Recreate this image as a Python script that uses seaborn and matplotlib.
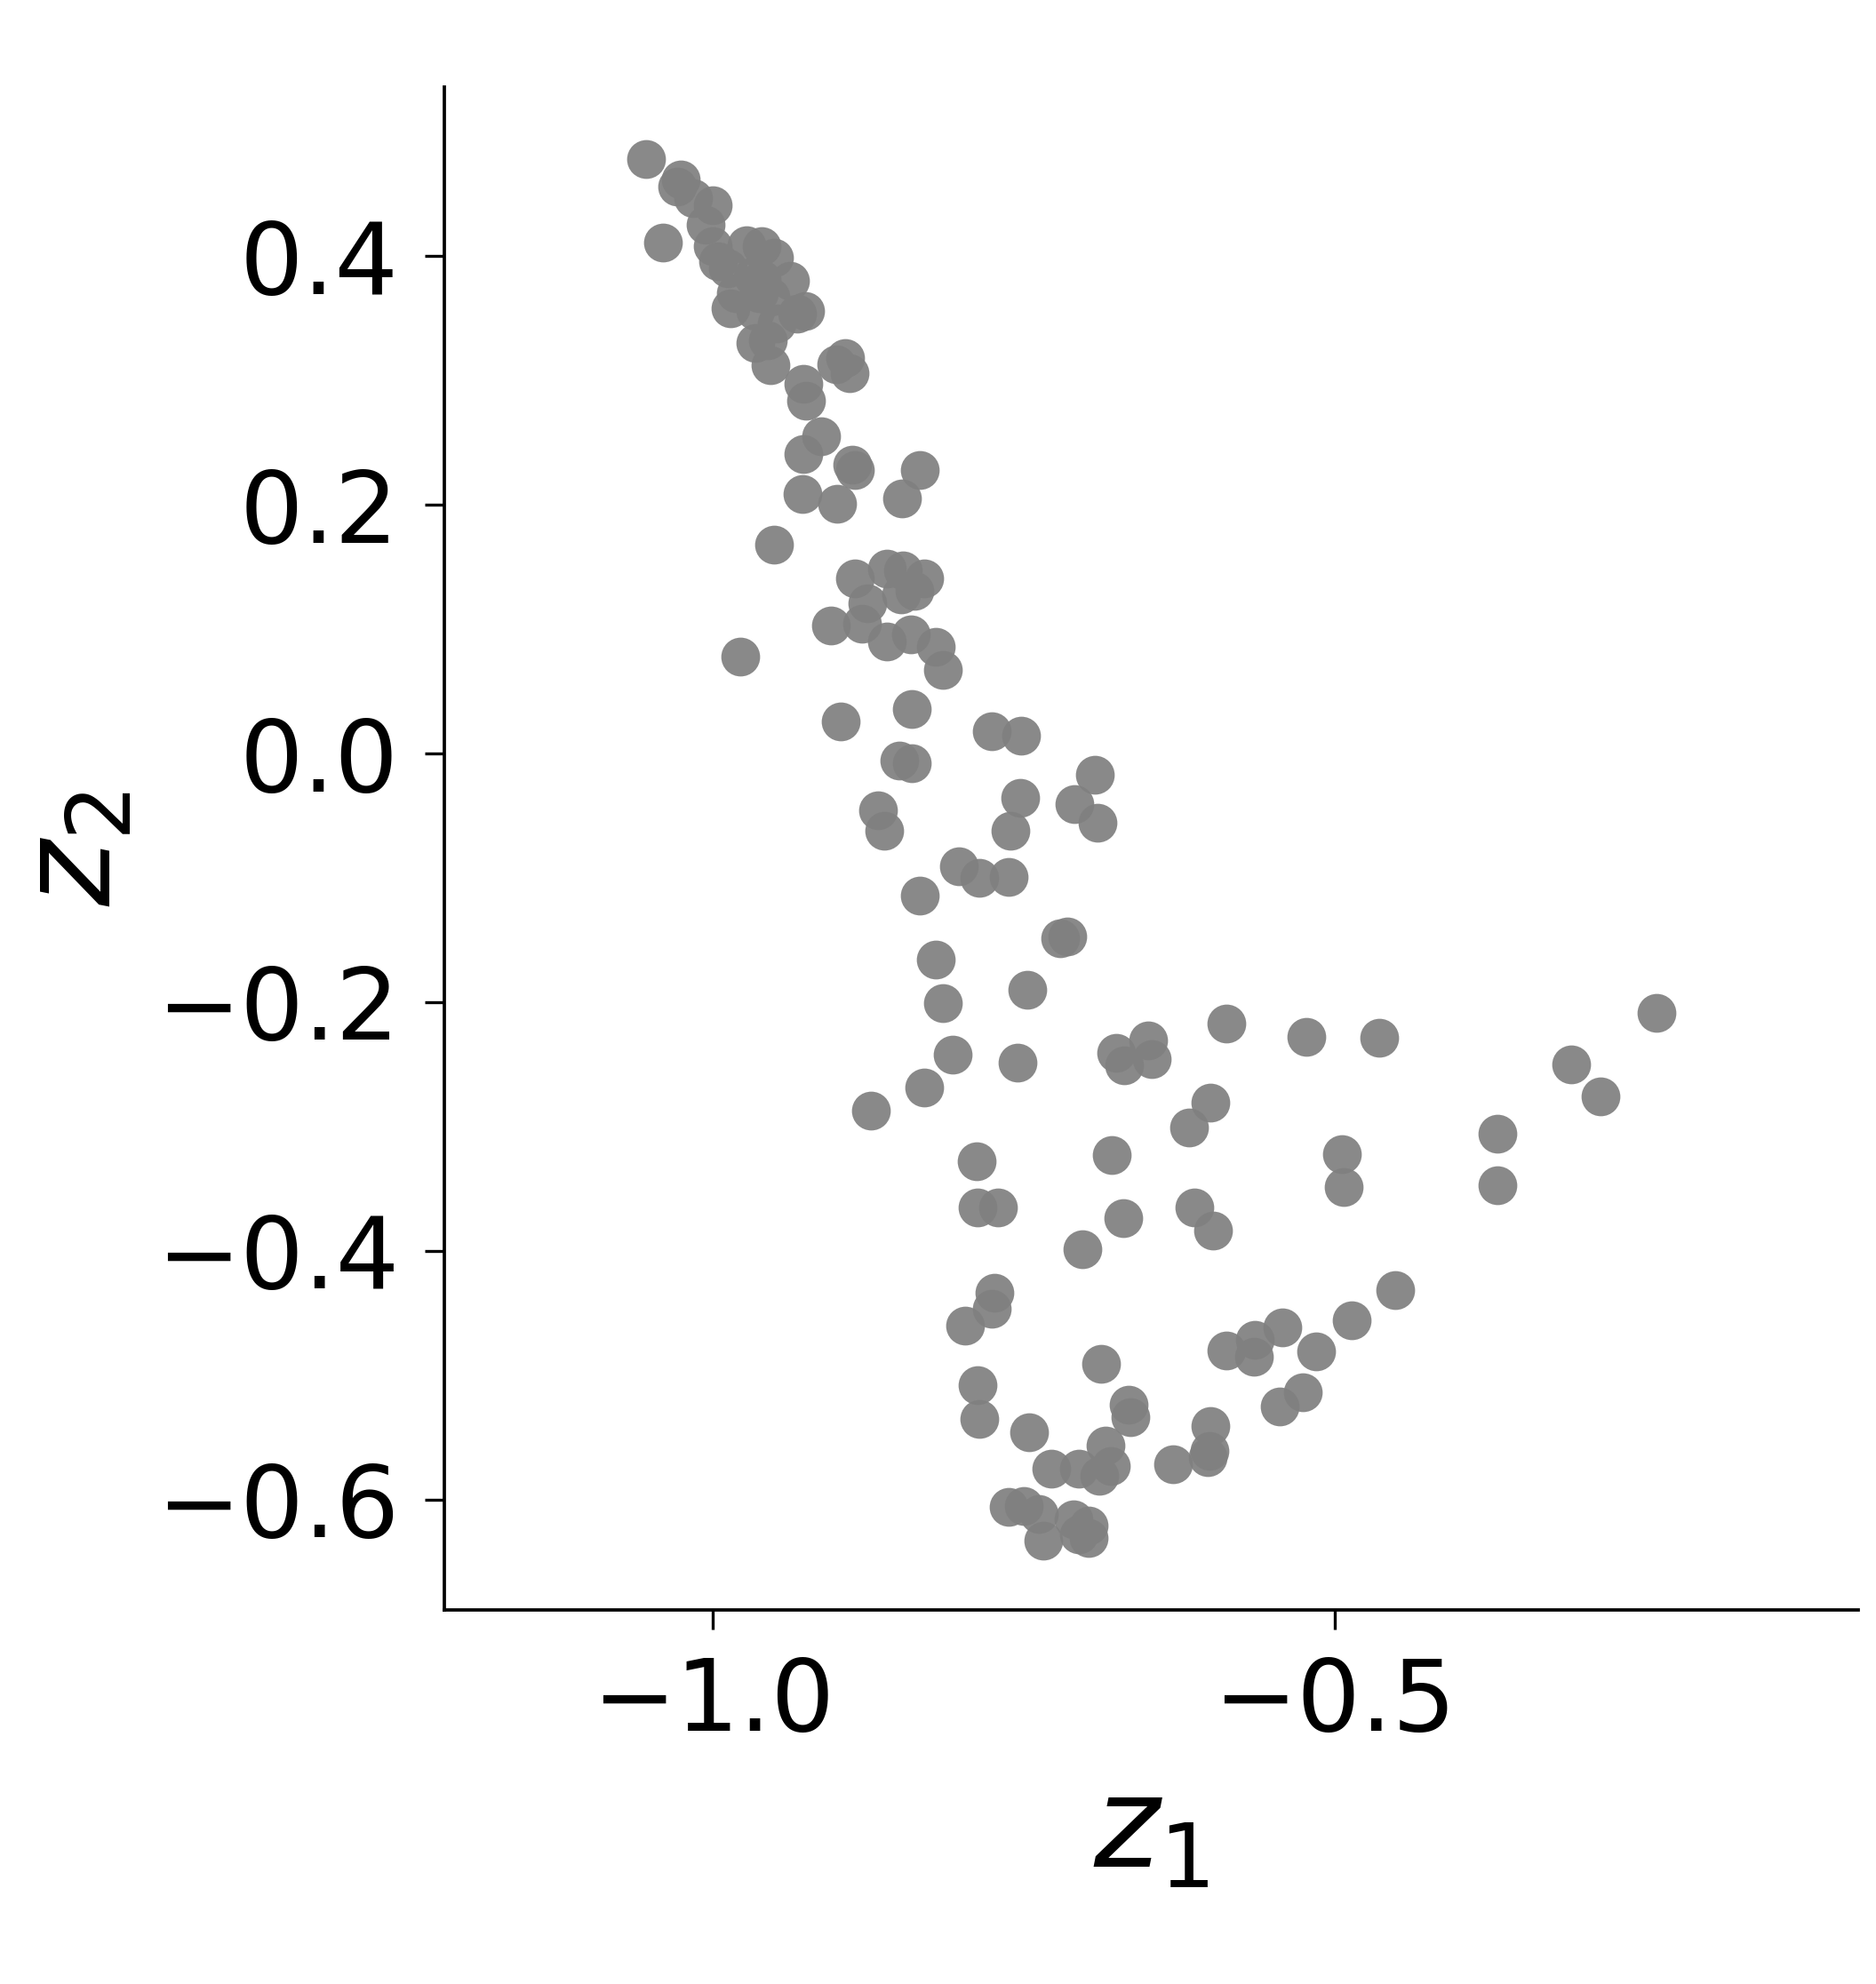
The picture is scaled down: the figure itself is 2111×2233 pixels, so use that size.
import numpy as np
import matplotlib
matplotlib.use("Agg")
import matplotlib.pyplot as plt
import seaborn as sns

# latent coordinates
z1 = [-1.054, -1.026, -1.029, -1.016, -1.000, -1.006, -1.000, -0.996, -1.040, -0.973,
      -0.961, -0.951, -0.938, -0.926, -0.932, -0.986, -0.982, -0.966, -0.954, -0.956,
      -0.968, -0.954, -0.949, -0.963, -0.988, -0.961, -0.966, -0.927, -0.925, -0.901,
      -0.894, -0.890, -0.913, -0.927,
      -0.888, -0.886, -0.834, -0.928, -0.900, -0.848, -0.951, -0.886, -0.860, -0.847,
      -0.830, -0.838, -0.849, -0.876, -0.880, -0.905, -0.860, -0.841, -0.821, -0.815,
      -0.978, -0.840, -0.897, -0.776, -0.752, -0.850, -0.840,
      -0.693, -0.753, -0.709, -0.691, -0.761, -0.867, -0.862, -0.802, -0.786, -0.762,
      -0.834, -0.721, -0.715, -0.821, -0.747, -0.815,
      -0.587, -0.676, -0.650, -0.669, -0.647, -0.807, -0.755, -0.830, -0.600, -0.617,
      -0.679, -0.788, -0.787, -0.771, -0.613, -0.598, -0.670, -0.703, -0.774, -0.776,
      -0.797, -0.873,
      -0.688, -0.587, -0.564, -0.565, -0.787, -0.786, -0.746, -0.666, -0.664, -0.600,
      -0.601, -0.602, -0.630, -0.684, -0.680, -0.689, -0.706, -0.728, -0.762, -0.750,
      -0.738, -0.734, -0.710, -0.698, -0.706, -0.698,
      -0.523, -0.464, -0.494, -0.493, -0.451, -0.486, -0.542,
      -0.515, -0.526, -0.544,
      -0.241, -0.310, -0.286, -0.369, -0.369]
z2 = [0.478, 0.462, 0.456, 0.447, 0.441, 0.425, 0.408, 0.396, 0.411, 0.409,
      0.408, 0.399, 0.380, 0.356, 0.354, 0.358, 0.370, 0.330, 0.312, 0.332,
      0.384, 0.367, 0.346, 0.370, 0.390, 0.382, 0.356, 0.297, 0.284, 0.313,
      0.318, 0.306, 0.255, 0.241,
      0.232, 0.228, 0.228, 0.209, 0.201, 0.205, 0.168, 0.141, 0.149, 0.147,
      0.141, 0.131, 0.128, 0.121, 0.104, 0.103, 0.090, 0.096, 0.086, 0.067,
      0.078, 0.036, 0.026, 0.018, 0.014, -0.006, -0.008,
      -0.017, -0.036, -0.041, -0.056, -0.062, -0.046, -0.062, -0.091, -0.100, -0.099,
      -0.114, -0.149, -0.147, -0.166, -0.190, -0.201,
      -0.217, -0.241, -0.231, -0.251, -0.246, -0.242, -0.249, -0.269, -0.281, -0.301,
      -0.323, -0.328, -0.365, -0.365, -0.365, -0.384, -0.374, -0.399, -0.434, -0.447,
      -0.460, -0.287,
      -0.491, -0.480, -0.472, -0.485, -0.508, -0.535, -0.546, -0.524, -0.534, -0.541,
      -0.561, -0.566, -0.572, -0.557, -0.573, -0.581, -0.575, -0.575, -0.606, -0.605,
      -0.612, -0.633, -0.616, -0.621, -0.628, -0.631,
      -0.228, -0.229, -0.322, -0.349, -0.432, -0.456, -0.462,
      -0.481, -0.514, -0.525,
      -0.209, -0.250, -0.276, -0.306, -0.347]

x_ticks = [-1.0, -0.5]
y_ticks = [-0.6, -0.4, -0.2, 0.0, 0.2, 0.4]

sns.set_style("ticks")
plt.rcParams['font.family'] = ['DejaVu Sans']
plt.rcParams['text.color'] = 'black'
plt.rcParams['axes.labelcolor'] = 'black'
plt.rcParams['xtick.color'] = 'black'
plt.rcParams['ytick.color'] = 'black'

fig = plt.figure(figsize=(2111 / 300, 2233 / 300), dpi=300)
ax = fig.add_axes([0.2369, 0.1885, 0.7536, 0.7676])

sns.scatterplot(x=z1, y=z2, color='gray', s=110, linewidth=0, alpha=0.93, ax=ax)

ax.set_xlim(-1.216, -0.079)
ax.set_ylim(-0.689, 0.536)
ax.set_xticks(x_ticks)
ax.set_yticks(y_ticks)
ax.tick_params(labelsize=27, length=5.3, width=0.8, pad=7,
               color='black', labelcolor='black')
ax.set_xlabel('$z_1$', fontsize=34, labelpad=5, color='black')
ax.set_ylabel('$z_2$', fontsize=34, labelpad=5, color='black')
for sp in ['left', 'bottom']:
    ax.spines[sp].set_linewidth(0.9)
    ax.spines[sp].set_color('black')
sns.despine(ax=ax)

fig.savefig('out.png', dpi=300)
